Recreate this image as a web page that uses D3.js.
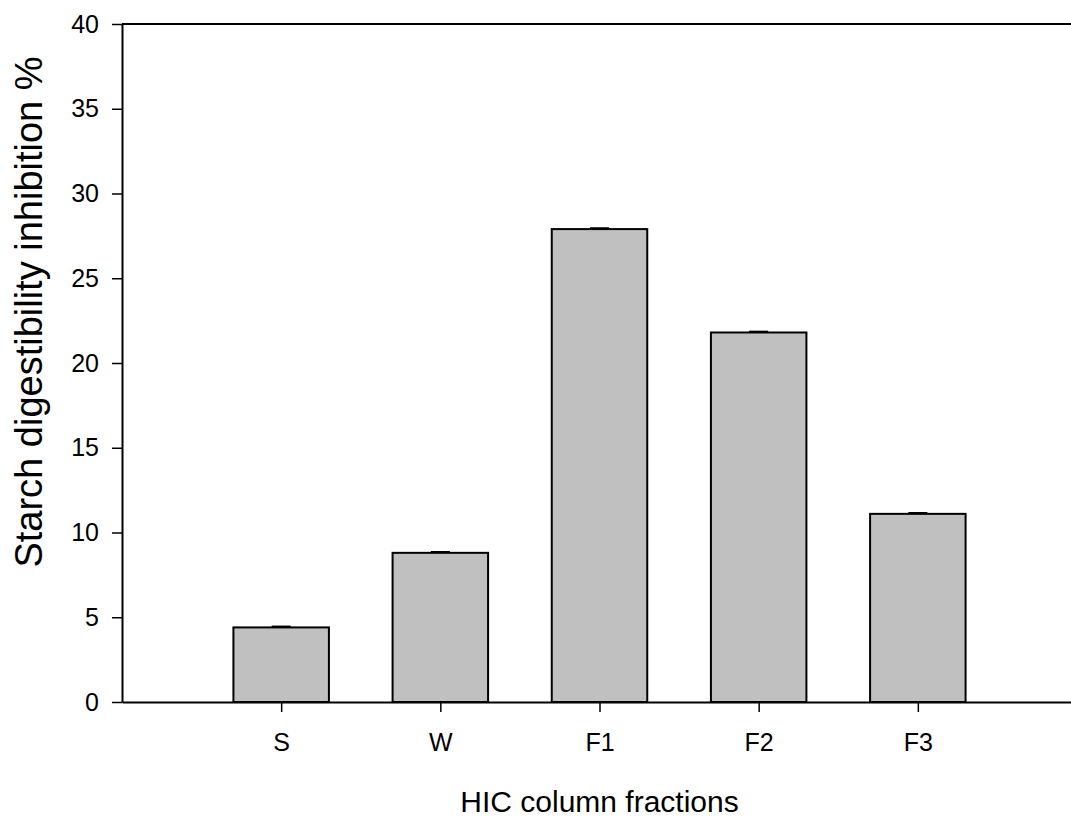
<!DOCTYPE html>
<html>
<head>
<meta charset="utf-8">
<script src="https://cdn.jsdelivr.net/npm/d3@7"></script>
<style>
  html, body { margin: 0; padding: 0; background: #fff; }
  svg { display: block; }
  text { font-family: "Liberation Sans", Arial, sans-serif; fill: #000; }
</style>
</head>
<body>
<script>
const categories = ["S", "W", "F1", "F2", "F3"];
const values = [4.4, 8.8, 27.9, 21.8, 11.1];
const errors = [0.05, 0.05, 0.05, 0.05, 0.05];
const yTicks = [0, 5, 10, 15, 20, 25, 30, 35, 40];
const xTitle = "HIC column fractions";
const yTitle = "Starch digestibility inhibition %";

const W = 1071, H = 819;
const svg = d3.select("body").append("svg").attr("width", W).attr("height", H);

const x = d3.scaleLinear().domain([0, categories.length + 1]).range([122, 1077]);
const y = d3.scaleLinear().domain([0, 40]).range([702, 24]);
const barW = (x(1) - x(0)) * 0.6;

// top frame line
svg.append("line")
  .attr("x1", x(0)).attr("x2", x(categories.length + 1))
  .attr("y1", y(40)).attr("y2", y(40))
  .attr("stroke", "#000").attr("stroke-width", 2);

// bars
svg.append("g").selectAll("rect").data(values).join("rect")
  .attr("x", (d, i) => x(i + 1) - barW / 2)
  .attr("y", d => y(d))
  .attr("width", barW)
  .attr("height", d => y(0) - y(d))
  .attr("fill", "#c0c0c0")
  .attr("stroke", "#000")
  .attr("stroke-width", 2);

// error bars (caps)
const eg = svg.append("g");
values.forEach((v, i) => {
  eg.append("line")
    .attr("x1", x(i + 1)).attr("x2", x(i + 1))
    .attr("y1", y(v + errors[i])).attr("y2", y(v))
    .attr("stroke", "#000").attr("stroke-width", 1.5);
  eg.append("line")
    .attr("x1", x(i + 1) - 9.5).attr("x2", x(i + 1) + 9.5)
    .attr("y1", y(v + errors[i])).attr("y2", y(v + errors[i]))
    .attr("stroke", "#000").attr("stroke-width", 2);
});

// x axis
const xAxis = d3.axisBottom(x)
  .tickValues(categories.map((c, i) => i + 1))
  .tickFormat((d, i) => categories[i])
  .tickSize(10).tickSizeOuter(0);
const gx = svg.append("g").attr("transform", `translate(0,${y(0)})`).call(xAxis);
gx.select(".domain").attr("stroke", "#000").attr("stroke-width", 2);
gx.selectAll(".tick line").attr("stroke", "#000").attr("stroke-width", 1.5);
gx.selectAll(".tick text")
  .attr("y", 31).attr("dy", "0.71em")
  .style("font-size", "25px")
  .style("font-family", "'Liberation Sans', Arial, sans-serif")
  .attr("fill", "#000");

// y axis
const yAxis = d3.axisLeft(y).tickValues(yTicks).tickFormat(d3.format("d"))
  .tickSize(10).tickSizeOuter(0).tickPadding(13);
const gy = svg.append("g").attr("transform", `translate(${x(0)},0)`).call(yAxis);
gy.select(".domain").attr("stroke", "#000").attr("stroke-width", 2);
gy.selectAll(".tick line").attr("stroke", "#000").attr("stroke-width", 1.5);
gy.selectAll(".tick text")
  .style("font-size", "25px")
  .style("font-family", "'Liberation Sans', Arial, sans-serif")
  .attr("fill", "#000");

// titles
svg.append("text")
  .attr("x", (x(0) + x(categories.length + 1)) / 2)
  .attr("y", 812)
  .attr("text-anchor", "middle")
  .style("font-size", "30px")
  .text(xTitle);

svg.append("text")
  .attr("transform", `translate(42,312) rotate(-90)`)
  .attr("text-anchor", "middle")
  .style("font-size", "38px")
  .text(yTitle);
</script>
</body>
</html>
